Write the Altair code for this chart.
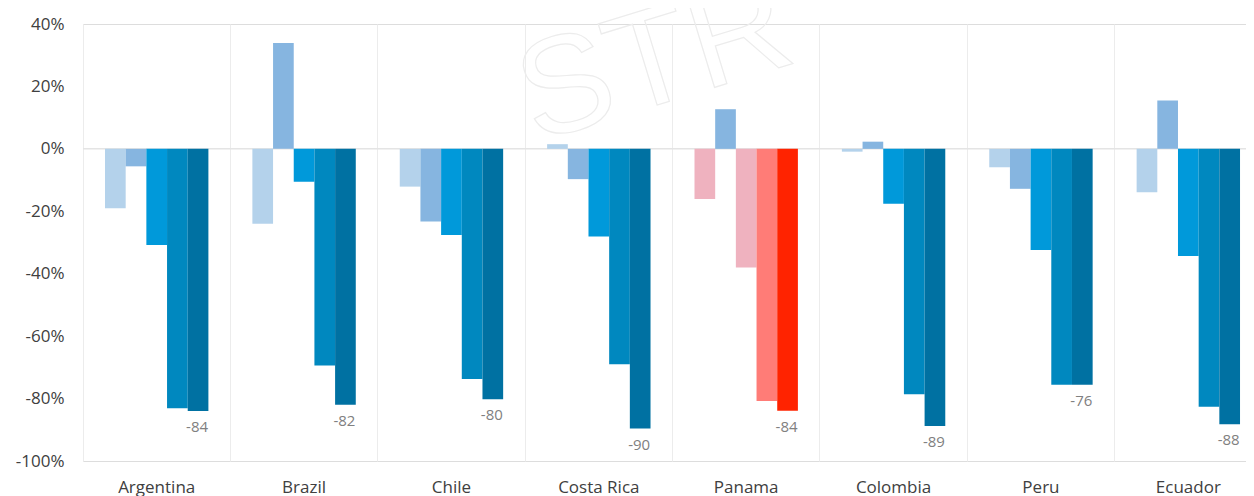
import altair as alt
import pandas as pd

countries = ["Argentina", "Brazil", "Chile", "Costa Rica", "Panama", "Colombia", "Peru", "Ecuador"]
series = ["Period 1", "Period 2", "Period 3", "Period 4", "Period 5"]

s1 = [-19.0, -24.0, -12.1, 1.5, -16.1, -0.9, -5.9, -13.9]
s2 = [-5.6, 33.9, -23.3, -9.7, 12.7, 2.3, -12.8, 15.5]
s3 = [-30.8, -10.5, -27.6, -28.1, -38.0, -17.6, -32.4, -34.3]
s4 = [-83.1, -69.4, -73.7, -69.0, -80.8, -78.6, -75.6, -82.6]
s5 = [-84.0, -82.0, -80.2, -89.6, -83.9, -88.8, -75.6, -88.2]

blue_colors = ["#b4d2eb", "#86b5e0", "#0099da", "#0088bf", "#0071a2"]
panama_colors = ["#efb2bf", "#86b5e0", "#efb2bf", "#ff7c77", "#ff2300"]

y_ticks = [-100, -80, -60, -40, -20, 0, 20, 40]

rows = []
all_series = [s1, s2, s3, s4, s5]
for ci, c in enumerate(countries):
    for si, s in enumerate(series):
        col = panama_colors[si] if c == "Panama" else blue_colors[si]
        rows.append({"country": c, "series": s, "value": all_series[si][ci], "color": col})
df = pd.DataFrame(rows)

FONT = "Open Sans"

x_enc = alt.X(
    "country:N",
    sort=countries,
    scale=alt.Scale(paddingInner=0, paddingOuter=0, range=[0, 1179]),
    axis=alt.Axis(
        title=None, labelAngle=0, grid=True, bandPosition=0, gridColor="#ececec",
        ticks=False, tickSize=0, domain=False, labelFontSize=17, labelColor="#404040",
        labelPadding=18, labelFont=FONT,
    ),
)
xoff_enc = alt.XOffset(
    "series:N", sort=series,
    scale=alt.Scale(paddingInner=0, paddingOuter=0, range=[22, 125.4]),
)
y_enc = alt.Y(
    "value:Q",
    scale=alt.Scale(domain=[-100, 40], nice=False),
    axis=alt.Axis(
        title=None, values=y_ticks, grid=False, labelExpr="datum.value + '%'",
        ticks=False, tickSize=0, domain=False, labelFontSize=17, labelColor="#404040",
        labelPadding=19, labelFont=FONT,
    ),
)

zero = alt.Chart(pd.DataFrame({"z": [0]})).mark_rule(color="#e4e4e4", strokeWidth=1.5).encode(
    y=alt.Y("z:Q")
)

bars = alt.Chart(df).mark_bar().encode(
    x=x_enc,
    xOffset=xoff_enc,
    y=y_enc,
    color=alt.Color("color:N", scale=None),
)

labels = alt.Chart(df).transform_filter(
    alt.datum.series == "Period 5"
).transform_calculate(
    label="'' + round(datum.value)"
).mark_text(
    align="right", baseline="top", dx=10, dy=9, fontSize=15, color="#808080", font=FONT
).encode(
    x=alt.X("country:N", sort=countries),
    xOffset=alt.XOffset("series:N", sort=series),
    y=alt.Y("value:Q"),
    text=alt.Text("label:N"),
)

watermark = alt.Chart(pd.DataFrame({"t": ["STR"]})).mark_text(
    align="center", baseline="alphabetic", angle=343, fontSize=138,
    font="Liberation Sans", fillOpacity=0, stroke="#ececec", strokeWidth=1.2,
).encode(
    x=alt.value(584), y=alt.value(78), text="t:N"
)

chart = alt.layer(watermark, zero, bars, labels).properties(
    width=1163, height=437,
    autosize=alt.AutoSizeParams(type="none"),
    padding={"left": 75, "top": 16, "right": 0, "bottom": 40},
).configure_view(stroke=None).configure(background="white")

chart.save("out.html", embed_options={"renderer": "svg", "actions": False})
